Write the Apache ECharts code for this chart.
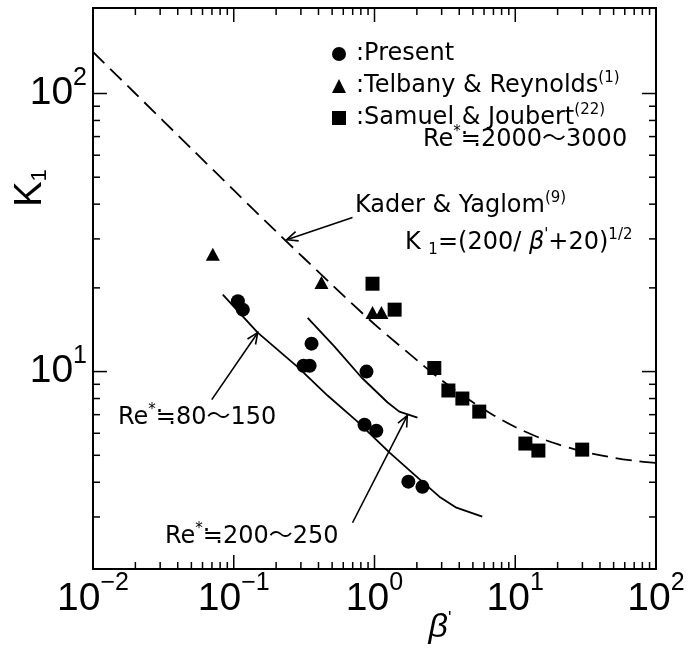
<!DOCTYPE html>
<html>
<head>
<meta charset="utf-8">
<script src="https://cdn.jsdelivr.net/npm/echarts@6/dist/echarts.min.js"></script>
<style>
  html, body { margin: 0; padding: 0; background: #fff; }
  #chart { width: 689px; height: 649px; }
</style>
</head>
<body>
<div id="chart"></div>
<script>
// values: beta' (x) and K1 (y)
const presentBeta = [0.107, 0.116, 0.313, 0.346, 0.357, 0.877, 0.849, 1.03, 1.74, 2.19];
const presentK1 = [17.9, 16.7, 10.5, 10.5, 12.6, 10.0, 6.44, 6.13, 4.02, 3.85];
const telbanyBeta = [0.071, 0.42, 0.968, 1.12];
const telbanyK1 = [26.4, 20.9, 16.3, 16.3];
const samuelBeta = [0.968, 1.39, 2.66, 3.35, 4.21, 5.55, 11.8, 14.6, 29.9];
const samuelK1 = [20.7, 16.7, 10.3, 8.55, 8.0, 7.18, 5.51, 5.2, 5.24];

// Kader & Yaglom dashed curve
const kyBeta = [0.01, 0.02, 0.05, 0.1, 0.2, 0.5, 1, 2, 3, 5, 7, 10, 15, 20, 30, 50, 70, 100];
const kyK1 = [141, 100, 63.4, 44.9, 31.9, 20.5, 14.8, 11.0, 9.3, 7.75, 6.97, 6.32, 5.77, 5.48, 5.16, 4.9, 4.78, 4.69];

// solid curves
const re80Beta = [0.0836, 0.148, 0.284, 0.464, 0.757, 1.28, 1.99, 2.89, 3.82, 5.83];
const re80K1 = [18.9, 13.8, 10.4, 8.2, 6.61, 5.11, 4.19, 3.55, 3.24, 3.01];
const re200Beta = [0.335, 0.52, 0.809, 1.24, 1.5, 2.02];
const re200K1 = [15.6, 12.3, 9.52, 7.74, 7.18, 6.83];

// annotation arrows: tail -> tip
const arrowFrom = [[0.698, 35.8], [0.0698, 7.93], [0.698, 2.86]];
const arrowTo = [[0.238, 29.8], [0.148, 13.8], [1.71, 6.95]];

// ticks
const xMajor = [0.01, 0.1, 1, 10, 100];
const xDecades = [0.01, 0.1, 1, 10];
const yMajor = [10, 100];
const yDecades = [1, 10];
const minorSteps = [2, 3, 4, 5, 6, 7, 8, 9];

const zip = (a, b) => a.map((v, i) => [v, b[i]]);

const xTicks = xMajor.map(v => [v, 10, 14]);
xDecades.forEach(d => minorSteps.forEach(m => xTicks.push([d * m, 10, 7])));
const yTicks = yMajor.map(v => [1, v, 14]);
yDecades.forEach(d => minorSteps.forEach(m => {
  const v = d * m;
  if (v > 2.5) yTicks.push([1, v, 7]);
}));

const annFont = "'DejaVu Sans', 'Noto Sans CJK JP', sans-serif";
const axisFont = "'Liberation Sans', Arial, sans-serif";

const annRich = {
  t: { fontFamily: annFont, fontSize: 24, lineHeight: 30, color: '#000' },
  l: { fontFamily: annFont, fontSize: 24, lineHeight: 30, color: '#000', padding: [0, 0, 0, 5] },
  s: { fontFamily: annFont, fontSize: 15, lineHeight: 15, verticalAlign: 'top', color: '#000' },
  d: { fontFamily: annFont, fontSize: 15, lineHeight: 15, verticalAlign: 'bottom', color: '#000' },
  i: { fontFamily: annFont, fontSize: 24, lineHeight: 30, fontStyle: 'italic', color: '#000' }
};

function powLabel(v) {
  const e = Math.log10(v);
  const r = Math.round(e);
  if (Math.abs(e - r) > 1e-6) return '';
  return '{b|10}{s|' + (r < 0 ? '\u2212' + (-r) : r) + '}';
}
const tickRich = {
  b: { fontFamily: axisFont, fontSize: 39, lineHeight: 56, color: '#000' },
  s: { fontFamily: axisFont, fontSize: 25, lineHeight: 25, verticalAlign: 'top', color: '#000' }
};

const legendText = {
  'Present': '{l|:Present}',
  'Telbany & Reynolds': '{l|:Telbany & Reynolds}{s|(1)}',
  'Samuel & Joubert': '{l|:Samuel & Joubert}{s|(22)}'
};

function annText(x, y, text) {
  return {
    type: 'text', x: x, y: y, silent: true,
    style: { text: text, rich: annRich, align: 'left', verticalAlign: 'middle', fill: '#000', font: '24px ' + annFont }
  };
}

const chart = echarts.init(document.getElementById('chart'));
chart.setOption({
  animation: false,
  backgroundColor: '#fff',
  grid: { left: 93, top: 8, width: 563, height: 561, show: true, borderColor: '#000', borderWidth: 2, backgroundColor: 'transparent' },
  xAxis: {
    type: 'log', logBase: 10, min: 0.01, max: 100,
    axisLine: { show: false }, axisTick: { show: false }, splitLine: { show: false },
    axisLabel: { formatter: powLabel, margin: 2, rich: tickRich, color: '#000' }
  },
  yAxis: {
    type: 'log', logBase: 10, min: 1.95, max: 203,
    axisLine: { show: false }, axisTick: { show: false }, splitLine: { show: false },
    axisLabel: { formatter: powLabel, margin: 6, rich: tickRich, color: '#000' }
  },
  legend: {
    orient: 'vertical', left: 327, top: 34, itemWidth: 14, itemHeight: 14, itemGap: 2,
    selectedMode: false,
    data: [
      { name: 'Present', icon: 'circle' },
      { name: 'Telbany & Reynolds', icon: 'triangle' },
      { name: 'Samuel & Joubert', icon: 'rect' }
    ],
    formatter: n => legendText[n],
    textStyle: { fontFamily: annFont, fontSize: 24, lineHeight: 28, color: '#000', rich: annRich }
  },
  graphic: [
    annText(423, 140, '{t|Re}{s|*}{t|\u22522000\u301c3000}'),
    annText(355, 206, '{t|Kader & Yaglom}{s|(9)}'),
    annText(405, 243, '{t|K }{d|1}{t|=(200/ }{i|\u03b2}{s|\'}{t|+20)}{s|1/2}'),
    annText(118, 418, '{t|Re}{s|*}{t|\u225280\u301c150}'),
    annText(165, 537, '{t|Re}{s|*}{t|\u2252200\u301c250}'),
    {
      type: 'text', x: 440, y: 628, silent: true,
      style: {
        text: '{b|\u03b2}{p|\'}', align: 'center', verticalAlign: 'middle',
        rich: {
          b: { fontFamily: axisFont, fontSize: 34, fontStyle: 'italic', lineHeight: 36, color: '#000' },
          p: { fontFamily: axisFont, fontSize: 18, lineHeight: 18, verticalAlign: 'top', color: '#000' }
        }
      }
    },
    {
      type: 'text', x: 31, y: 188, rotation: Math.PI / 2, silent: true,
      style: {
        text: '{k|K}{s|1}', align: 'center', verticalAlign: 'middle',
        rich: {
          k: { fontFamily: axisFont, fontSize: 38, lineHeight: 40, color: '#000' },
          s: { fontFamily: axisFont, fontSize: 22, lineHeight: 22, verticalAlign: 'bottom', color: '#000' }
        }
      }
    }
  ],
  series: [
    {
      type: 'line', data: zip(kyBeta, kyK1), showSymbol: false, smooth: 0.3, silent: true,
      lineStyle: { color: '#000', width: 1.8, type: [16, 8] }
    },
    {
      type: 'line', data: zip(re80Beta, re80K1), showSymbol: false, silent: true,
      lineStyle: { color: '#000', width: 1.8 }
    },
    {
      type: 'line', data: zip(re200Beta, re200K1), showSymbol: false, silent: true,
      lineStyle: { color: '#000', width: 1.8 }
    },
    {
      name: 'Present', type: 'scatter', data: zip(presentBeta, presentK1),
      symbol: 'circle', symbolSize: 14, itemStyle: { color: '#000', opacity: 1 }, z: 5
    },
    {
      name: 'Telbany & Reynolds', type: 'scatter', data: zip(telbanyBeta, telbanyK1),
      symbol: 'triangle', symbolSize: [14, 13], itemStyle: { color: '#000', opacity: 1 }, z: 5
    },
    {
      name: 'Samuel & Joubert', type: 'scatter', data: zip(samuelBeta, samuelK1),
      symbol: 'rect', symbolSize: 14, itemStyle: { color: '#000', opacity: 1 }, z: 5
    },
    {
      type: 'custom', silent: true, z: 4,
      data: arrowFrom.map((f, i) => [f[0], f[1], arrowTo[i][0], arrowTo[i][1]]),
      renderItem: (params, api) => {
        const a = api.coord([api.value(0), api.value(1)]);
        const b = api.coord([api.value(2), api.value(3)]);
        const ang = Math.atan2(b[1] - a[1], b[0] - a[0]);
        const L = 12, w = 0.42;
        const p1 = [b[0] - L * Math.cos(ang - w), b[1] - L * Math.sin(ang - w)];
        const p2 = [b[0] - L * Math.cos(ang + w), b[1] - L * Math.sin(ang + w)];
        return {
          type: 'group', children: [
            { type: 'line', shape: { x1: a[0], y1: a[1], x2: b[0], y2: b[1] }, style: { stroke: '#000', lineWidth: 1.6 } },
            { type: 'polyline', shape: { points: [p1, b, p2] }, style: { stroke: '#000', fill: null, lineWidth: 1.6 } }
          ]
        };
      }
    },
    {
      type: 'custom', silent: true, data: xTicks, encode: { x: 0, y: 1 },
      renderItem: (params, api) => {
        const cs = params.coordSys;
        const px = api.coord([api.value(0), 10])[0];
        const len = api.value(2);
        const bottom = cs.y + cs.height;
        return {
          type: 'group', children: [
            { type: 'line', shape: { x1: px, y1: bottom, x2: px, y2: bottom - len }, style: { stroke: '#000', lineWidth: 1.5 } },
            { type: 'line', shape: { x1: px, y1: cs.y, x2: px, y2: cs.y + len }, style: { stroke: '#000', lineWidth: 1.5 } }
          ]
        };
      }
    },
    {
      type: 'custom', silent: true, data: yTicks, encode: { x: 0, y: 1 },
      renderItem: (params, api) => {
        const cs = params.coordSys;
        const py = api.coord([1, api.value(1)])[1];
        const len = api.value(2);
        const right = cs.x + cs.width;
        return {
          type: 'group', children: [
            { type: 'line', shape: { x1: cs.x, y1: py, x2: cs.x + len, y2: py }, style: { stroke: '#000', lineWidth: 1.5 } },
            { type: 'line', shape: { x1: right, y1: py, x2: right - len, y2: py }, style: { stroke: '#000', lineWidth: 1.5 } }
          ]
        };
      }
    }
  ]
});
window.addEventListener('resize', () => chart.resize());
</script>
</body>
</html>
